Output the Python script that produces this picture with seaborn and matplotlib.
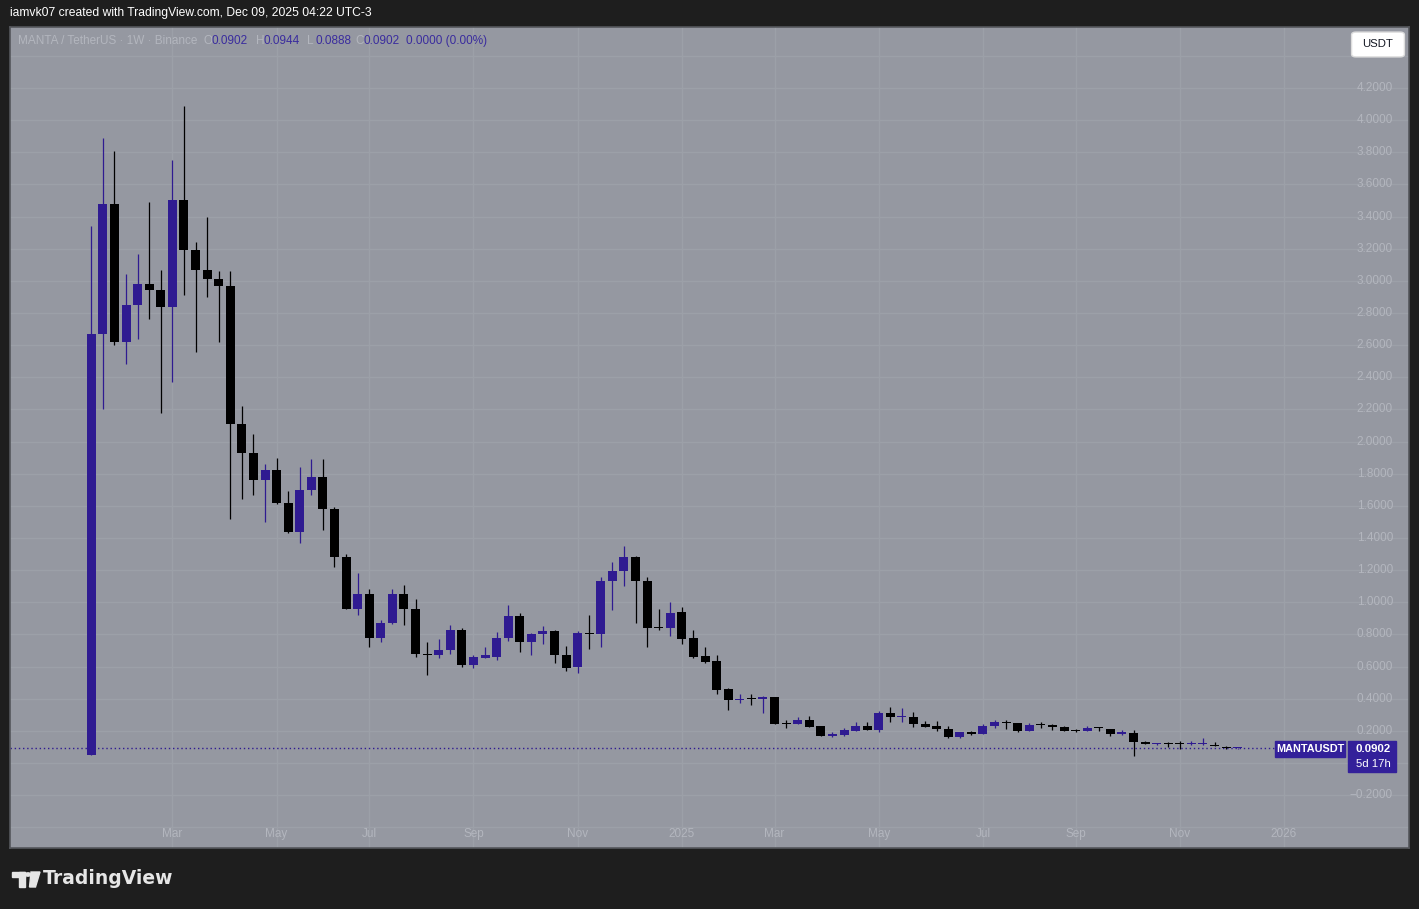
import numpy as np
import pandas as pd
import seaborn as sns
import matplotlib
matplotlib.use('Agg')
import matplotlib.pyplot as plt
import matplotlib.dates as mdates
import matplotlib.transforms as mtransforms
from matplotlib.ticker import MultipleLocator
from matplotlib.patches import Rectangle, FancyBboxPatch, Circle, Polygon

W, H = 1419, 909

# weekly MANTA/USDT candles, first week starts Monday 2024-01-15
week_start = '2024-01-15'
opens = [0.05, 2.67, 3.48, 2.62, 2.85, 2.98, 2.94, 2.84, 3.50, 3.19,
         3.07, 3.01, 2.97, 2.11, 1.93, 1.76, 1.82, 1.62, 1.44, 1.70,
         1.78, 1.58, 1.28, 0.96, 1.05, 0.78, 0.87, 1.05, 0.96, 0.68,
         0.67, 0.70, 0.83, 0.61, 0.655, 0.66, 0.78, 0.915, 0.75, 0.80,
         0.82, 0.67, 0.60, 0.81, 0.80, 1.13, 1.195, 1.28, 1.13, 0.845,
         0.84, 0.94, 0.78, 0.665, 0.635, 0.46, 0.39, 0.40, 0.395, 0.41,
         0.245, 0.24, 0.27, 0.23, 0.17, 0.175, 0.20, 0.23, 0.205, 0.313,
         0.283, 0.285, 0.245, 0.23, 0.21, 0.16, 0.195, 0.183, 0.23, 0.253,
         0.247, 0.20, 0.236, 0.235, 0.225, 0.20, 0.198, 0.22, 0.21, 0.178,
         0.185, 0.132, 0.117, 0.118, 0.118, 0.117, 0.116, 0.112, 0.102, 0.0902]
highs = [3.34, 3.89, 3.81, 3.04, 3.17, 3.49, 3.07, 3.75, 4.09, 3.24,
         3.40, 3.06, 3.06, 2.22, 2.05, 1.86, 1.90, 1.69, 1.84, 1.89,
         1.89, 1.59, 1.30, 1.18, 1.08, 0.89, 1.08, 1.11, 1.02, 0.75,
         0.77, 0.86, 0.84, 0.67, 0.72, 0.815, 0.98, 0.93, 0.81, 0.85,
         0.825, 0.73, 0.82, 0.92, 1.16, 1.25, 1.35, 1.29, 1.16, 0.96,
         1.00, 0.97, 0.83, 0.72, 0.67, 0.465, 0.43, 0.43, 0.415, 0.41,
         0.27, 0.285, 0.29, 0.23, 0.195, 0.215, 0.257, 0.257, 0.325, 0.35,
         0.34, 0.32, 0.26, 0.26, 0.23, 0.195, 0.197, 0.243, 0.268, 0.268,
         0.25, 0.247, 0.257, 0.243, 0.227, 0.21, 0.232, 0.226, 0.212, 0.205,
         0.205, 0.134, 0.126, 0.133, 0.139, 0.138, 0.153, 0.129, 0.106, 0.0944]
lows = [0.05, 2.20, 2.60, 2.48, 2.64, 2.76, 2.18, 2.37, 2.91, 2.56,
        2.90, 2.62, 1.52, 1.64, 1.67, 1.50, 1.61, 1.43, 1.37, 1.67,
        1.45, 1.22, 0.955, 0.92, 0.72, 0.75, 0.865, 0.86, 0.66, 0.55,
        0.655, 0.68, 0.60, 0.59, 0.65, 0.64, 0.76, 0.69, 0.67, 0.74,
        0.62, 0.57, 0.56, 0.71, 0.72, 0.95, 1.10, 0.87, 0.72, 0.83,
        0.79, 0.74, 0.655, 0.62, 0.43, 0.33, 0.375, 0.36, 0.31, 0.24,
        0.215, 0.24, 0.225, 0.168, 0.16, 0.17, 0.197, 0.203, 0.195, 0.257,
        0.257, 0.225, 0.224, 0.20, 0.158, 0.158, 0.175, 0.18, 0.216, 0.21,
        0.19, 0.197, 0.22, 0.205, 0.197, 0.19, 0.197, 0.20, 0.168, 0.174,
        0.045, 0.115, 0.112, 0.10, 0.085, 0.113, 0.113, 0.104, 0.085, 0.0888]
closes = [2.67, 3.48, 2.62, 2.85, 2.98, 2.94, 2.84, 3.50, 3.19, 3.07,
          3.01, 2.97, 2.11, 1.93, 1.76, 1.82, 1.62, 1.44, 1.70, 1.78,
          1.58, 1.28, 0.96, 1.05, 0.78, 0.87, 1.05, 0.96, 0.68, 0.67,
          0.70, 0.83, 0.61, 0.66, 0.67, 0.78, 0.915, 0.75, 0.80, 0.82,
          0.67, 0.59, 0.81, 0.80, 1.13, 1.195, 1.28, 1.13, 0.84, 0.84,
          0.93, 0.77, 0.66, 0.63, 0.455, 0.39, 0.40, 0.395, 0.41, 0.24,
          0.24, 0.27, 0.226, 0.17, 0.178, 0.205, 0.23, 0.205, 0.313, 0.283,
          0.29, 0.24, 0.226, 0.21, 0.16, 0.195, 0.183, 0.23, 0.253, 0.25,
          0.20, 0.234, 0.234, 0.226, 0.20, 0.198, 0.22, 0.215, 0.178, 0.19,
          0.13, 0.117, 0.119, 0.116, 0.117, 0.119, 0.118, 0.106, 0.0902, 0.0902]

month_labels = ['Mar', 'May', 'Jul', 'Sep', 'Nov', '2025',
                'Mar', 'May', 'Jul', 'Sep', 'Nov', '2026']
month_starts = ['2024-03-01', '2024-05-01', '2024-07-01', '2024-09-01', '2024-11-01', '2025-01-01',
                '2025-03-01', '2025-05-01', '2025-07-01', '2025-09-01', '2025-11-01', '2026-01-01']
price_labels = [-0.2, 0.2, 0.4, 0.6, 0.8, 1.0, 1.2, 1.4, 1.6, 1.8, 2.0, 2.2,
                2.4, 2.6, 2.8, 3.0, 3.2, 3.4, 3.6, 3.8, 4.0, 4.2]
last_price = 0.0902
header_title = 'MANTA / TetherUS · 1W · Binance'
header_keys = ['O', 'H', 'L', 'C']
header_vals = ['0.0902', '0.0944', '0.0888', '0.0902']
header_change = '0.0000 (0.00%)'

UP = '#2f1b91'
DOWN = '#000000'
BG = '#9598a1'
DARK = '#1e1e1e'
LIGHT_TXT = '#b3b6be'
VAL_TXT = '#3a2c9e'


def fx(x):
    return x / W


def fy(y):
    return 1 - y / H


def main():
    df = pd.DataFrame({
        'date': pd.date_range(week_start, periods=len(opens), freq='7D'),
        'open': opens, 'high': highs, 'low': lows, 'close': closes,
    })
    df['x'] = mdates.date2num(df['date'])
    df['up'] = df['close'] >= df['open']
    df['bottom'] = df[['open', 'close']].min(axis=1)
    df['body'] = (df['close'] - df['open']).abs().clip(lower=0.0065)

    sns.set_theme(style='dark', rc={'axes.facecolor': BG, 'figure.facecolor': DARK,
                                    'grid.color': '#9ca0a8', 'grid.linewidth': 1.0})
    plt.rcParams['font.family'] = ['Liberation Sans', 'DejaVu Sans']

    fig = plt.figure(figsize=(W / 100, H / 100), dpi=100)
    ax = fig.add_axes([fx(10), fy(848), fx(1399), (848 - 27) / H])

    # x scale: one week = 11.58 px, first bar centred at px 91.3
    wk = 11.58
    x0 = df['x'].iloc[0]
    ax.set_xlim(x0 - (91.3 - 10) / wk * 7, x0 + (1409 - 91.3) / wk * 7)
    ax.set_ylim(4.2 - (848 - 88) / 160.7, 4.2 + (88 - 27) / 160.7)

    # ticks at the first weekly bar of each labelled month
    tick_dates = []
    for s in month_starts:
        d = pd.Timestamp(s)
        tick_dates.append(d + pd.Timedelta(days=(7 - d.weekday()) % 7))
    tick_x = mdates.date2num(tick_dates)
    ax.set_xticks(tick_x)
    ax.yaxis.set_major_locator(MultipleLocator(0.2))
    ax.grid(True, color='#9ca0a8', linewidth=1.0)
    ax.tick_params(left=False, bottom=False, labelleft=False, labelbottom=False)
    for sp in ax.spines.values():
        sp.set_color('#55575c')
        sp.set_linewidth(1.2)

    # candles
    colors = np.where(df['up'], UP, DOWN)
    ax.vlines(df['x'], df['low'], df['high'], colors=colors, linewidth=0.9, zorder=3)
    ax.bar(df['x'], df['body'], bottom=df['bottom'], width=9 / wk * 7,
           color=colors, linewidth=0, zorder=4)

    # last price dotted line
    ax.axhline(last_price, xmin=0, xmax=(1275 - 10) / 1399, color=UP,
               linestyle=(0, (1, 2)), linewidth=1.0, zorder=2)

    # price axis labels (inside the pane, right side)
    ytr = mtransforms.blended_transform_factory(fig.transFigure, ax.transData)
    for v in price_labels:
        ax.text(fx(1393), v, f'{v:.4f}'.replace('-', '\u2212'), transform=ytr,
                ha='right', va='center', fontsize=8.5, color=LIGHT_TXT)

    # time axis labels
    xtr = mtransforms.blended_transform_factory(ax.transData, fig.transFigure)
    for xv, lab in zip(tick_x, month_labels):
        ax.text(xv, fy(834), lab, transform=xtr, ha='center', va='center',
                fontsize=8.5, color=LIGHT_TXT)

    # price tags
    fig.patches.append(Rectangle((fx(1275), fy(757)), fx(70), 16 / H, color='#33209a',
                                 transform=fig.transFigure, zorder=5))
    fig.text(fx(1310), fy(749), 'MANTAUSDT', ha='center', va='center', fontsize=7.8,
             color='white', fontweight='bold', zorder=6)
    fig.patches.append(Rectangle((fx(1348), fy(772)), fx(48), 31 / H, color='#33209a',
                                 transform=fig.transFigure, zorder=5))
    fig.text(fx(1373), fy(749), f'{last_price:.4f}', ha='center', va='center',
             fontsize=8.2, color='white', fontweight='bold', zorder=6)
    fig.text(fx(1373), fy(764), '5d 17h', ha='center', va='center',
             fontsize=8.2, color='white', zorder=6)

    # currency button
    fig.patches.append(FancyBboxPatch((fx(1353), fy(56)), fx(50), 23 / H,
                                      boxstyle='round,pad=0.001,rounding_size=0.003',
                                      facecolor='white', edgecolor='#dddddd',
                                      transform=fig.transFigure, zorder=5))
    fig.text(fx(1378), fy(44), 'USDT', ha='center', va='center', fontsize=8.2,
             color='#131722', zorder=6)

    # legend header
    fig.text(fx(18), fy(41), header_title, ha='left', va='center', fontsize=8.5,
             color=LIGHT_TXT)
    key_x = [204, 256, 307, 355]
    for kx, k, v in zip(key_x, header_keys, header_vals):
        fig.text(fx(kx), fy(41), k, ha='left', va='center', fontsize=8.5, color=LIGHT_TXT)
        fig.text(fx(kx + 8), fy(41), v, ha='left', va='center', fontsize=8.5, color=VAL_TXT)
    fig.text(fx(406), fy(41), header_change, ha='left', va='center', fontsize=8.5,
             color=VAL_TXT)

    # top caption
    fig.text(fx(10), fy(13), 'iamvk07 created with TradingView.com, Dec 09, 2025 04:22 UTC-3',
             ha='left', va='center', fontsize=8.7, color='white')

    # TradingView logo
    logo = '#e6e6e6'
    fig.patches.append(Rectangle((fx(12), fy(877)), fx(13), 5 / H, color=logo,
                                 transform=fig.transFigure))
    fig.patches.append(Rectangle((fx(18.5), fy(887)), fx(6.5), 15 / H, color=logo,
                                 transform=fig.transFigure))
    fig.patches.append(Circle((fx(28), fy(874.5)), 2.6 / W, color=logo,
                              transform=fig.transFigure))
    fig.patches.append(Polygon([(fx(31), fy(872)), (fx(40), fy(872)),
                                (fx(35.5), fy(887)), (fx(29.5), fy(887))],
                               closed=True, color=logo, transform=fig.transFigure))
    fig.text(fx(43), fy(879), 'TradingView', ha='left', va='center', fontsize=13.5,
             color=logo, fontweight='bold', family=['DejaVu Sans'])

    fig.savefig('out.png', dpi=100, facecolor=DARK)


if __name__ == '__main__':
    main()
